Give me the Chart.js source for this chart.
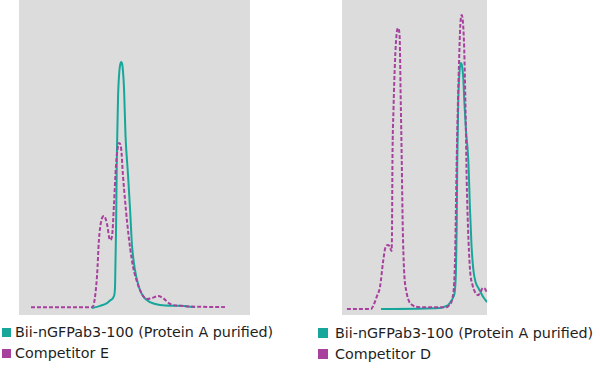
<!DOCTYPE html>
<html>
<head>
<meta charset="utf-8">
<script src="https://cdn.jsdelivr.net/npm/chart.js@4/dist/chart.umd.min.js"></script>
<style>
  body { margin: 0; background: #fff; width: 600px; height: 368px; position: relative; overflow: hidden; }
  canvas { position: absolute; top: 0; }
  #chartE { left: 19px; }
  #chartD { left: 342px; }
  .legend { position: absolute; font-family: "DejaVu Sans", Verdana, sans-serif; font-size: 14.3px; color: #1e1e1e; }
  .legend div { height: 21px; line-height: 21px; white-space: nowrap; }
  .legend span { display: inline-block; width: 9px; height: 9px; margin-right: 4px; vertical-align: 0px; }
  #legendE { left: 2px; top: 322px; }
  #legendD { left: 318px; top: 323px; }
  #legendD span { width: 10px; height: 10px; margin-right: 7px; }
</style>
</head>
<body>
<canvas id="chartE" width="231" height="315"></canvas>
<canvas id="chartD" width="145" height="315"></canvas>
<div class="legend" id="legendE"></div>
<div class="legend" id="legendD"></div>
<script>
// series names
const ourLabel = 'Bii-nGFPab3-100 (Protein A purified)';
const compELabel = 'Competitor E';
const compDLabel = 'Competitor D';

// left panel: elution position / normalised signal
const ourLeftX = [31.6, 35.1, 38.1, 39.8, 41.1, 41.6, 42.0, 42.4, 42.9, 43.5, 44.2, 44.8, 45.5, 46.1, 47.2, 48.1, 48.9, 50.2, 51.9, 53.7, 56.7, 61.0, 69.7, 76.2];
const ourLeftY = [2.2, 2.9, 3.8, 4.8, 6.0, 9.5, 27.0, 52.4, 69.8, 77.8, 80.3, 79.0, 71.4, 57.1, 44.4, 33.3, 22.2, 14.3, 8.9, 6.0, 4.1, 3.2, 2.9, 2.5];

const compEX = [5.2, 31.6, 32.5, 33.8, 34.6, 35.5, 36.8, 38.1, 39.4, 40.3, 41.1, 42.0, 42.9, 43.3, 44.2, 45.0, 45.9, 46.8, 48.1, 49.4, 51.1, 52.4, 54.1, 55.4, 57.6, 60.2, 62.3, 65.4, 69.7, 89.2];
const compEY = [2.5, 2.5, 3.8, 12.7, 23.8, 29.5, 31.4, 28.9, 23.8, 25.1, 34.9, 47.6, 53.7, 54.6, 53.0, 44.4, 36.5, 29.5, 21.3, 15.2, 10.5, 7.9, 5.7, 5.1, 5.4, 6.0, 5.4, 3.5, 2.9, 2.5];

// right panel
const ourRightX = [26.9, 67.6, 71.0, 73.3, 75.2, 76.8, 77.9, 78.6, 79.1, 79.5, 80.2, 80.9, 81.9, 82.8, 83.7, 84.3, 85.5, 87.1, 88.3, 89.3, 90.6, 92.1, 94.0, 95.9, 97.4, 100];
const ourRightY = [1.9, 2.2, 2.7, 3.2, 4.4, 5.7, 7.9, 14.3, 27.9, 49.2, 68.3, 76.2, 80.0, 79.0, 74.6, 68.3, 58.7, 49.2, 33.3, 22.2, 14.3, 10.5, 8.6, 7.0, 5.7, 4.1];

const compDX = [3.4, 20.0, 22.1, 24.1, 26.2, 28.3, 29.7, 31.7, 33.1, 34.1, 34.5, 34.8, 35.5, 36.6, 37.6, 38.6, 39.7, 40.5, 41.2, 41.9, 42.8, 44.6, 46.2, 48.3, 53.8, 72.4, 74.5, 75.9, 77.9, 79.1, 80.0, 80.7, 81.6, 82.6, 83.4, 84.3, 85.2, 86.0, 86.9, 88.3, 90.0, 91.7, 93.8, 95.5, 97.2, 98.6, 100];
const compDY = [1.9, 1.9, 3.5, 6.0, 8.9, 16.8, 21.0, 22.2, 21.6, 20.3, 27.0, 49.2, 65.1, 81.0, 88.9, 91.1, 88.9, 68.3, 49.2, 27.9, 14.3, 7.0, 4.4, 3.2, 2.5, 2.5, 3.5, 4.8, 16.8, 49.2, 68.3, 80.0, 92.1, 95.2, 93.0, 84.1, 65.1, 42.9, 27.9, 14.3, 9.5, 7.3, 6.3, 7.3, 8.6, 8.3, 7.0];

const teal = '#17a79a';
const magenta = '#a8409e';
const panelGrey = '#dcdcdc';

const toPoints = (xs, ys) => xs.map((x, i) => ({ x: x, y: ys[i] }));

const panelBackground = {
    id: 'panelBackground',
    beforeDraw: (chart) => {
        const a = chart.chartArea;
        const ctx = chart.ctx;
        ctx.save();
        ctx.fillStyle = panelGrey;
        ctx.fillRect(a.left, a.top, a.right - a.left, a.bottom - a.top);
        ctx.restore();
    }
};

const renderPanel = (id, ourX, ourY, compX, compY, compLabel) => {
    new Chart(id, {
        type: 'line',
        data: {
            datasets: [
                {
                    label: ourLabel,
                    data: toPoints(ourX, ourY),
                    borderColor: teal,
                    backgroundColor: teal,
                    borderWidth: 2,
                    pointRadius: 0,
                    cubicInterpolationMode: 'monotone',
                    order: 1
                },
                {
                    label: compLabel,
                    data: toPoints(compX, compY),
                    borderColor: magenta,
                    backgroundColor: magenta,
                    borderWidth: 2,
                    borderDash: [4, 2],
                    pointRadius: 0,
                    cubicInterpolationMode: 'monotone',
                    order: 0
                }
            ]
        },
        options: {
            responsive: false,
            animation: false,
            layout: { padding: 0 },
            plugins: {
                legend: { display: false },
                tooltip: { enabled: false }
            },
            scales: {
                x: { type: 'linear', min: 0, max: 100, display: false },
                y: { min: 0, max: 100, display: false }
            }
        },
        plugins: [panelBackground]
    });
};

const renderLegend = (id, items) => {
    document.getElementById(id).innerHTML = items
        .map(it => '<div><span style="background:' + it[1] + '"></span>' + it[0] + '</div>')
        .join('');
};

renderPanel('chartE', ourLeftX, ourLeftY, compEX, compEY, compELabel);
renderPanel('chartD', ourRightX, ourRightY, compDX, compDY, compDLabel);
renderLegend('legendE', [[ourLabel, teal], [compELabel, magenta]]);
renderLegend('legendD', [[ourLabel, teal], [compDLabel, magenta]]);
</script>
</body>
</html>
